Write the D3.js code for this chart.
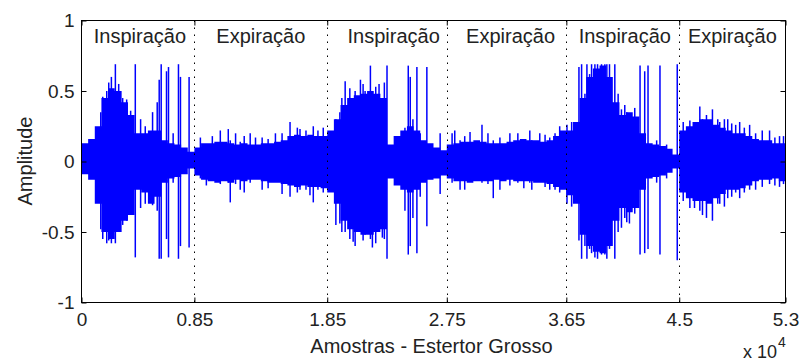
<!DOCTYPE html>
<html>
<head>
<meta charset="utf-8">
<script src="https://cdn.jsdelivr.net/npm/d3@7"></script>
<style>
  body { margin: 0; background: #fff; }
  text { font-family: "Liberation Sans", Arial, sans-serif; fill: #222; }
</style>
</head>
<body>
<div id="vis"></div>
<script>
// waveform envelope, one value per bin of 500 samples
const binSize = 500;
const upper = [
  0.13,0.16,0.25,0.45,0.52,0.5,0.42,0.33,0.2,0.2,0.22,0.22,0.15,0.13,0.12,0.1,0.07,
  0.1,0.13,0.13,0.14,0.14,0.13,0.12,0.13,0.12,0.12,0.13,0.13,0.14,0.15,0.18,0.19,0.18,0.19,0.18,0.18,
  0.22,0.3,0.4,0.45,0.47,0.48,0.5,0.48,0.45,0.12,0.18,0.22,0.25,0.22,0.15,0.13,0.1,0.08,
  0.12,0.13,0.14,0.14,0.15,0.14,0.13,0.13,0.13,0.14,0.15,0.16,0.15,0.15,0.14,0.15,0.18,0.22,
  0.22,0.28,0.45,0.6,0.66,0.68,0.6,0.42,0.33,0.35,0.32,0.2,0.13,0.12,0.11,0.09,0.05,
  0.22,0.25,0.28,0.3,0.3,0.26,0.24,0.22,0.2,0.2,0.18,0.16,0.15,0.15,0.13,0.13
];
const lower = [
  -0.09,-0.13,-0.3,-0.5,-0.55,-0.5,-0.42,-0.38,-0.2,-0.22,-0.3,-0.25,-0.15,-0.12,-0.11,-0.09,-0.05,
  -0.1,-0.13,-0.14,-0.15,-0.14,-0.15,-0.13,-0.14,-0.13,-0.13,-0.14,-0.15,-0.15,-0.16,-0.17,-0.18,-0.17,-0.18,-0.18,-0.19,
  -0.22,-0.3,-0.42,-0.48,-0.5,-0.52,-0.52,-0.5,-0.48,-0.12,-0.17,-0.2,-0.22,-0.2,-0.15,-0.13,-0.12,-0.1,
  -0.12,-0.14,-0.14,-0.15,-0.14,-0.14,-0.14,-0.13,-0.14,-0.13,-0.14,-0.14,-0.14,-0.15,-0.15,-0.16,-0.18,-0.2,
  -0.24,-0.3,-0.52,-0.6,-0.64,-0.65,-0.6,-0.42,-0.33,-0.36,-0.33,-0.2,-0.12,-0.11,-0.1,-0.08,-0.05,
  -0.22,-0.26,-0.28,-0.28,-0.3,-0.26,-0.23,-0.2,-0.2,-0.19,-0.17,-0.14,-0.13,-0.13,-0.12,-0.14
];

// single peaks sticking out of the envelope
const spikeSample = [
  1450,1600,1900,2050,2250,2550,2800,2950,3100,3400,3700,4050,4450,4800,5350,5700,5850,6000,6400,6550,6900,7300,7450,8100,
  8950,9400,9850,10450,11050,11200,11600,11950,12250,12700,13100,13600,14050,14600,15100,15700,16250,16450,16900,17200,17450,17800,18200,
  19150,19450,19600,19850,20200,20450,20600,21000,21200,21350,21750,21900,22150,22400,22650,22800,23000,24350,24600,24750,24950,25250,25500,26000,27000,
  27900,28100,28500,28850,29250,30150,30600,31000,31500,32250,32850,33300,33750,33900,34500,34900,35250,35650,36000,
  36550,36900,37450,37650,37900,38050,38250,38400,38650,38850,39150,39400,39550,39750,40150,40400,40650,40900,41050,41250,41650,42050,42400,42650,43300,43550,44050,44850,
  45300,45800,46150,46550,46750,47050,47500,47900,48050,48400,48650,48950,49250,49550,49900,50300,50750,51250,51800,52200,52550,52850
];
const spikeTop = [
  0.35,0.46,0.5,0.56,0.6,0.69,0.55,0.5,0.45,0.44,0.36,0.69,0.3,0.25,0.35,0.42,0.58,0.69,0.64,0.67,0.2,0.69,0.6,0.6,
  0.17,0.12,0.18,0.22,0.23,0.15,0.2,0.14,0.18,0.2,0.17,0.17,0.16,0.2,0.2,0.28,0.24,0.23,0.22,0.18,0.25,0.22,0.24,
  0.3,0.35,0.45,0.57,0.52,0.45,0.5,0.58,0.55,0.5,0.68,0.5,0.53,0.55,0.45,0.56,0.68,0.24,0.68,0.6,0.3,0.67,0.2,0.67,0.2,
  0.2,0.22,0.15,0.18,0.21,0.26,0.2,0.15,0.17,0.2,0.2,0.15,0.22,0.15,0.2,0.19,0.17,0.2,0.25,
  0.26,0.28,0.67,0.69,0.48,0.69,0.62,0.69,0.69,0.69,0.69,0.69,0.69,0.69,0.69,0.48,0.37,0.4,0.35,0.3,0.38,0.68,0.64,0.68,0.15,0.68,0.12,0.69,
  0.28,0.29,0.25,0.39,0.3,0.33,0.37,0.3,0.28,0.3,0.3,0.27,0.26,0.28,0.24,0.26,0.2,0.22,0.22,0.17,0.18,0.18
];
const spikeBottom = [
  -0.48,-0.55,-0.58,-0.56,-0.58,-0.58,-0.5,-0.5,-0.45,-0.42,-0.35,-0.68,-0.33,-0.3,-0.31,-0.35,-0.69,-0.69,-0.55,-0.68,-0.15,-0.69,-0.6,-0.61,
  -0.12,-0.17,-0.13,-0.16,-0.15,-0.29,-0.16,-0.2,-0.22,-0.15,-0.12,-0.2,-0.19,-0.14,-0.23,-0.25,-0.22,-0.2,-0.2,-0.24,-0.29,-0.2,-0.22,
  -0.45,-0.44,-0.5,-0.5,-0.55,-0.57,-0.6,-0.5,-0.56,-0.52,-0.55,-0.61,-0.58,-0.5,-0.54,-0.55,-0.69,-0.35,-0.66,-0.6,-0.4,-0.65,-0.25,-0.46,-0.23,
  -0.15,-0.13,-0.2,-0.2,-0.13,-0.15,-0.16,-0.26,-0.2,-0.17,-0.15,-0.19,-0.15,-0.2,-0.14,-0.18,-0.2,-0.2,-0.22,
  -0.3,-0.32,-0.56,-0.69,-0.6,-0.69,-0.62,-0.65,-0.68,-0.69,-0.66,-0.66,-0.69,-0.62,-0.69,-0.5,-0.47,-0.4,-0.43,-0.44,-0.37,-0.66,-0.65,-0.62,-0.15,-0.66,-0.12,-0.7,
  -0.28,-0.33,-0.33,-0.35,-0.38,-0.4,-0.42,-0.3,-0.3,-0.32,-0.26,-0.25,-0.22,-0.26,-0.22,-0.2,-0.2,-0.18,-0.16,-0.17,-0.18,-0.16
];

// ticks and labels
const xTicks = [0, 8500, 18500, 27500, 36500, 45000, 53000];
const xTickLabels = ['0', '0.85', '1.85', '2.75', '3.65', '4.5', '5.3'];
const phaseLines = [8500, 18500, 27500, 36500, 45000];
const yTicks = [-1, -0.5, 0, 0.5, 1];
const phaseNames = ['Inspiração', 'Expiração', 'Inspiração', 'Expiração', 'Inspiração', 'Expiração'];
const phaseLabelX = [4400, 13500, 23500, 32300, 40900, 49000];

const width = 800, height = 362;
const box = {left: 81.5, right: 785.5, top: 20.5, bottom: 302.5};

const svg = d3.select('#vis')
    .append('svg')
    .attr('width', width)
    .attr('height', height);

const xScale = d3.scaleLinear().domain([0, 53000]).range([box.left, box.right]);
const yScale = d3.scaleLinear().domain([-1, 1]).range([box.bottom, box.top]);

// envelope as a step area
const env = upper.map((u, i) => ({s: i * binSize, u: u, l: lower[i]}));
env.push({s: 53000, u: upper[upper.length - 1], l: lower[lower.length - 1]});

const area = d3.area()
    .curve(d3.curveStepAfter)
    .x(d => xScale(d.s))
    .y0(d => yScale(d.l))
    .y1(d => yScale(d.u));

svg.append('path')
    .datum(env)
    .attr('d', area)
    .attr('fill', '#0000ff');

// spikes
svg.selectAll('.spike')
    .data(spikeSample)
    .join('line')
    .attr('class', 'spike')
    .attr('x1', d => xScale(d))
    .attr('x2', d => xScale(d))
    .attr('y1', (d, i) => yScale(spikeTop[i]))
    .attr('y2', (d, i) => yScale(spikeBottom[i]))
    .attr('stroke', '#0000ff')
    .attr('stroke-width', 1.5);

// dotted phase separators
svg.selectAll('.sep')
    .data(phaseLines)
    .join('line')
    .attr('class', 'sep')
    .attr('x1', d => Math.round(xScale(d)) + 0.5)
    .attr('x2', d => Math.round(xScale(d)) + 0.5)
    .attr('y1', box.top)
    .attr('y2', box.bottom)
    .attr('stroke', '#000')
    .attr('stroke-width', 1)
    .attr('stroke-dasharray', '1.5,5.5');

// axes, ticks pointing inwards like matlab
const fmtX = (d, i) => xTickLabels[i];
svg.append('g')
    .attr('transform', `translate(0,${box.bottom})`)
    .call(d3.axisBottom(xScale).tickValues(xTicks).tickFormat(fmtX).tickSizeInner(-5).tickSizeOuter(0).tickPadding(10))
    .call(g => g.select('.domain').remove());
svg.append('g')
    .attr('transform', `translate(0,${box.top})`)
    .call(d3.axisTop(xScale).tickValues(xTicks).tickFormat('').tickSizeInner(-5).tickSizeOuter(0))
    .call(g => g.select('.domain').remove());
svg.append('g')
    .attr('transform', `translate(${box.left},0)`)
    .call(d3.axisLeft(yScale).tickValues(yTicks).tickFormat(d => String(d)).tickSizeInner(-5).tickSizeOuter(0).tickPadding(7))
    .call(g => g.select('.domain').remove());
svg.append('g')
    .attr('transform', `translate(${box.right},0)`)
    .call(d3.axisRight(yScale).tickValues(yTicks).tickFormat('').tickSizeInner(-5).tickSizeOuter(0))
    .call(g => g.select('.domain').remove());

svg.selectAll('.tick line').attr('stroke', '#000');
svg.selectAll('.tick text')
    .attr('font-size', 19)
    .attr('font-family', '"Liberation Sans", Arial, sans-serif')
    .attr('fill', '#222');

// box
svg.append('rect')
    .attr('x', box.left)
    .attr('y', box.top)
    .attr('width', box.right - box.left)
    .attr('height', box.bottom - box.top)
    .attr('fill', 'none')
    .attr('stroke', '#000')
    .attr('stroke-width', 1);

// phase labels
svg.selectAll('.phase')
    .data(phaseNames)
    .join('text')
    .attr('class', 'phase')
    .attr('x', (d, i) => xScale(phaseLabelX[i]))
    .attr('y', 43)
    .attr('text-anchor', 'middle')
    .attr('font-size', 20)
    .text(d => d);

// axis labels
svg.append('text')
    .attr('x', (box.left + box.right) / 2 - 2)
    .attr('y', 353)
    .attr('text-anchor', 'middle')
    .attr('font-size', 20)
    .text('Amostras - Estertor Grosso');

svg.append('text')
    .attr('transform', 'rotate(-90)')
    .attr('x', -161)
    .attr('y', 32)
    .attr('text-anchor', 'middle')
    .attr('font-size', 20)
    .text('Amplitude');

// exponent
const expo = svg.append('text')
    .attr('x', 743)
    .attr('y', 358)
    .attr('font-size', 18);
expo.append('tspan').text('x 10');
expo.append('tspan')
    .attr('x', 778)
    .attr('y', 347)
    .attr('font-size', 14)
    .text('4');
</script>
</body>
</html>
